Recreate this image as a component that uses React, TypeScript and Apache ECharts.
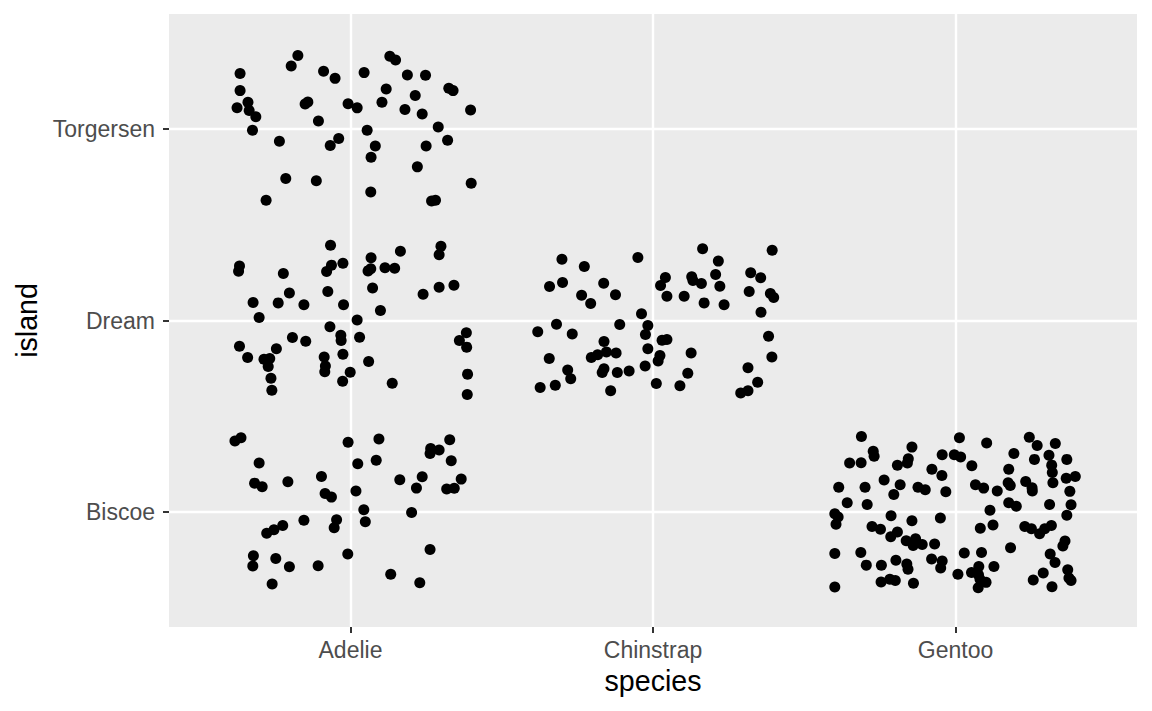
import React, { useEffect, useRef } from "react";
import * as echarts from "echarts";

const species = ["Adelie", "Chinstrap", "Gentoo"];
const islands = ["Biscoe", "Dream", "Torgersen"];
const tickValues = [1, 2, 3];

// jitter offsets [dx, dy] of each point from its (species, island) position
const adelieTorgersen = [
  [-0.174, 0.383], [-0.196, 0.329], [-0.365, 0.289], [-0.089, 0.301], [-0.051, 0.264],
  [0.045, 0.294], [0.13, 0.379], [0.149, 0.36], [0.188, 0.282], [0.248, 0.28],
  [-0.365, 0.2], [0.118, 0.209], [0.325, 0.212], [0.339, 0.2], [-0.339, 0.139],
  [-0.375, 0.111], [-0.335, 0.096], [-0.313, 0.064], [-0.15, 0.13], [-0.141, 0.141],
  [-0.008, 0.132], [0.022, 0.11], [0.104, 0.139], [0.214, 0.174], [0.18, 0.101],
  [0.237, 0.078], [0.397, 0.099], [-0.324, -0.007], [-0.106, 0.042], [0.055, -0.007],
  [0.29, 0.01], [-0.235, -0.064], [-0.039, -0.05], [-0.067, -0.087], [0.082, -0.089],
  [0.068, -0.148], [0.25, -0.089], [0.321, -0.059], [0.221, -0.198], [-0.214, -0.259],
  [-0.113, -0.27], [0.067, -0.329], [0.399, -0.284], [-0.279, -0.372], [0.268, -0.376],
  [0.281, -0.372],
];

const adelieDream = [
  [-0.066, 0.393], [-0.367, 0.285], [-0.37, 0.257], [-0.222, 0.245], [-0.063, 0.289],
  [-0.079, 0.256], [-0.025, 0.299], [0.068, 0.327], [0.165, 0.362], [0.299, 0.388],
  [0.293, 0.343], [0.058, 0.259], [0.067, 0.27], [0.114, 0.275], [0.146, 0.273],
  [-0.075, 0.151], [0.073, 0.17], [0.24, 0.137], [0.293, 0.174], [0.342, 0.184],
  [-0.322, 0.094], [-0.239, 0.092], [-0.202, 0.143], [-0.154, 0.082], [-0.023, 0.082],
  [0.099, 0.052], [-0.302, 0.016], [0.022, 0.003], [-0.068, -0.033], [-0.032, -0.077],
  [-0.031, -0.104], [0.03, -0.087], [-0.192, -0.089], [-0.148, -0.108], [-0.367, -0.134],
  [-0.34, -0.193], [-0.245, -0.148], [-0.286, -0.202], [-0.267, -0.198], [-0.272, -0.24],
  [-0.263, -0.301], [-0.26, -0.364], [-0.087, -0.19], [-0.083, -0.238], [-0.085, -0.268],
  [-0.025, -0.176], [-0.001, -0.27], [-0.026, -0.317], [0.06, -0.214], [0.138, -0.327],
  [0.383, -0.064], [0.36, -0.104], [0.384, -0.139], [0.387, -0.28], [0.386, -0.386],
];

const adelieBiscoe = [
  [-0.382, 0.371], [-0.362, 0.388], [-0.008, 0.365], [0.094, 0.381], [0.328, 0.378],
  [0.265, 0.332], [0.293, 0.324], [0.263, 0.306], [-0.302, 0.256], [0.024, 0.252],
  [0.085, 0.271], [0.333, 0.268], [-0.317, 0.151], [-0.292, 0.132], [-0.207, 0.158],
  [-0.096, 0.186], [-0.084, 0.097], [-0.063, 0.078], [0.018, 0.11], [0.163, 0.169],
  [0.237, 0.184], [0.218, 0.125], [0.318, 0.12], [0.343, 0.124], [0.366, 0.172],
  [0.044, 0.012], [0.049, -0.05], [0.202, -0.002], [-0.154, -0.043], [-0.046, -0.04],
  [-0.054, -0.082], [-0.277, -0.111], [-0.253, -0.092], [-0.224, -0.07], [-0.321, -0.228],
  [-0.323, -0.282], [-0.247, -0.242], [-0.202, -0.285], [-0.107, -0.28], [-0.009, -0.219],
  [0.263, -0.195], [0.133, -0.325], [0.229, -0.369], [-0.259, -0.376],
];

const chinstrapDream = [
  [-0.301, 0.32], [-0.227, 0.282], [-0.05, 0.329], [-0.342, 0.177], [-0.299, 0.198],
  [-0.236, 0.132], [-0.206, 0.089], [-0.163, 0.195], [-0.124, 0.134], [-0.038, 0.035],
  [0.164, 0.374], [0.394, 0.367], [0.216, 0.31], [0.041, 0.224], [0.025, 0.183],
  [0.046, 0.127], [0.128, 0.228], [0.132, 0.209], [0.16, 0.193], [0.207, 0.24],
  [0.221, 0.179], [0.103, 0.127], [0.169, 0.092], [0.235, 0.082], [0.323, 0.249],
  [0.356, 0.223], [0.318, 0.151], [0.388, 0.141], [0.399, 0.12], [0.357, 0.043],
  [-0.381, -0.059], [-0.319, -0.019], [-0.267, -0.071], [-0.11, -0.021], [-0.017, -0.026],
  [-0.025, -0.073], [-0.162, -0.11], [0.03, -0.103], [0.046, -0.099], [-0.017, -0.148],
  [-0.343, -0.198], [-0.204, -0.193], [-0.183, -0.179], [-0.154, -0.165], [-0.122, -0.17],
  [0.023, -0.183], [0.017, -0.211], [0.126, -0.17], [-0.282, -0.259], [-0.272, -0.304],
  [-0.162, -0.252], [-0.168, -0.271], [-0.118, -0.271], [-0.079, -0.264], [-0.026, -0.238],
  [-0.373, -0.35], [-0.323, -0.338], [-0.14, -0.367], [0.011, -0.329], [0.089, -0.341],
  [0.115, -0.275], [0.382, -0.082], [0.393, -0.19], [0.314, -0.247], [0.346, -0.322],
  [0.314, -0.367], [0.29, -0.379],
];

const gentooBiscoe = [
  [-0.311, 0.395], [-0.272, 0.317], [-0.269, 0.292], [-0.35, 0.256], [-0.312, 0.257],
  [-0.144, 0.339], [-0.156, 0.278], [-0.159, 0.256], [-0.192, 0.244], [-0.078, 0.224],
  [-0.044, 0.299], [-0.045, 0.191], [-0.386, 0.129], [-0.299, 0.129], [-0.236, 0.167],
  [-0.183, 0.143], [-0.204, 0.092], [-0.124, 0.13], [-0.1, 0.117], [-0.032, 0.106],
  [-0.358, 0.049], [-0.292, 0.04], [-0.399, -0.009], [-0.388, -0.026], [-0.395, -0.064],
  [-0.213, -0.019], [-0.144, -0.045], [-0.05, -0.031], [-0.276, -0.075], [-0.248, -0.09],
  [-0.214, -0.129], [-0.192, -0.104], [-0.163, -0.15], [-0.132, -0.139], [-0.14, -0.174],
  [-0.11, -0.169], [-0.069, -0.167], [-0.399, -0.216], [-0.313, -0.211], [-0.295, -0.277],
  [-0.245, -0.278], [-0.197, -0.252], [-0.161, -0.271], [-0.157, -0.299], [-0.079, -0.245],
  [-0.044, -0.256], [-0.049, -0.292], [-0.399, -0.391], [-0.246, -0.365], [-0.217, -0.351],
  [-0.199, -0.357], [-0.139, -0.372],
  [0.013, 0.388], [0.103, 0.36], [-0.004, 0.299], [0.017, 0.287], [0.054, 0.242],
  [0.193, 0.306], [0.176, 0.224], [0.244, 0.391], [0.27, 0.348], [0.33, 0.358],
  [0.261, 0.275], [0.309, 0.296], [0.318, 0.245], [0.32, 0.207], [0.368, 0.275],
  [0.322, 0.153], [0.366, 0.177], [0.396, 0.186], [0.378, 0.108], [0.066, 0.143],
  [0.093, 0.125], [0.138, 0.11], [0.174, 0.153], [0.181, 0.139], [0.232, 0.16],
  [0.253, 0.127], [0.254, 0.11], [0.176, 0.049], [0.201, 0.03], [0.311, 0.04],
  [0.382, 0.038], [0.368, -0.017], [0.114, 0.009], [0.082, -0.085], [0.124, -0.068],
  [0.229, -0.075], [0.251, -0.087], [0.278, -0.113], [0.295, -0.087], [0.317, -0.07],
  [0.182, -0.186], [0.362, -0.151], [0.355, -0.177], [0.029, -0.214], [0.086, -0.211],
  [0.313, -0.219], [0.329, -0.263], [0.008, -0.325], [0.053, -0.315], [0.077, -0.284],
  [0.076, -0.327], [0.081, -0.351], [0.101, -0.367], [0.075, -0.395], [0.127, -0.284],
  [0.257, -0.355], [0.29, -0.318], [0.319, -0.39], [0.371, -0.301], [0.375, -0.344],
  [0.382, -0.357],
];

const groups = [
  { sp: 1, is: 3, pts: adelieTorgersen },
  { sp: 1, is: 2, pts: adelieDream },
  { sp: 1, is: 1, pts: adelieBiscoe },
  { sp: 2, is: 2, pts: chinstrapDream },
  { sp: 3, is: 1, pts: gentooBiscoe },
];

const FONT = '"Liberation Sans", Arial, Helvetica, sans-serif';

export default function App() {
  const ref = useRef<HTMLDivElement>(null);

  useEffect(() => {
    document.body.style.margin = "0";
    if (!ref.current) return;
    const chart = echarts.init(ref.current, null, { renderer: "svg" });

    const gridLines = [
      ...tickValues.map((v) => ({ xAxis: v })),
      ...tickValues.map((v) => ({ yAxis: v })),
    ];

    const series: any[] = groups.map((g, i) => ({
      type: "scatter",
      data: g.pts.map(([dx, dy]) => [g.sp + dx, g.is + dy]),
      symbol: "circle",
      symbolSize: 11,
      itemStyle: { color: "#000000", opacity: 1 },
      z: 3,
      silent: true,
      markLine:
        i === 0
          ? {
              silent: true,
              z: 1,
              symbol: ["none", "none"],
              label: { show: false },
              lineStyle: { color: "#ffffff", width: 2.4, type: "solid", opacity: 1 },
              emphasis: { disabled: true },
              data: gridLines,
            }
          : undefined,
    }));

    chart.setOption({
      animation: false,
      backgroundColor: "#ffffff",
      textStyle: { fontFamily: FONT },
      grid: {
        left: 169,
        right: 15,
        top: 14,
        bottom: 84,
        show: true,
        backgroundColor: "#EBEBEB",
        borderWidth: 0,
      },
      xAxis: {
        type: "value",
        min: 0.4,
        max: 3.6,
        name: "species",
        nameLocation: "middle",
        nameGap: 39,
        nameTextStyle: { fontSize: 28.6, color: "#000000", fontFamily: FONT },
        axisLine: { show: false },
        splitLine: { show: false },
        axisTick: {
          show: true,
          length: 6,
          customValues: tickValues,
          lineStyle: { color: "#333333", width: 2 },
        },
        axisLabel: {
          show: true,
          customValues: tickValues,
          margin: 11,
          fontSize: 23,
          color: "#4D4D4D",
          fontFamily: FONT,
          formatter: (v: number) => species[Math.round(v) - 1] ?? "",
        },
      },
      yAxis: {
        type: "value",
        min: 0.4,
        max: 3.6,
        name: "island",
        nameLocation: "middle",
        nameGap: 128,
        nameRotate: 90,
        nameTextStyle: { fontSize: 28.6, color: "#000000", fontFamily: FONT },
        axisLine: { show: false },
        splitLine: { show: false },
        axisTick: {
          show: true,
          length: 6,
          customValues: tickValues,
          lineStyle: { color: "#333333", width: 2 },
        },
        axisLabel: {
          show: true,
          customValues: tickValues,
          margin: 14,
          fontSize: 23,
          color: "#4D4D4D",
          fontFamily: FONT,
          formatter: (v: number) => islands[Math.round(v) - 1] ?? "",
        },
      },
      series,
    });

    return () => {
      chart.dispose();
    };
  }, []);

  return <div ref={ref} style={{ width: 1152, height: 711 }} />;
}
